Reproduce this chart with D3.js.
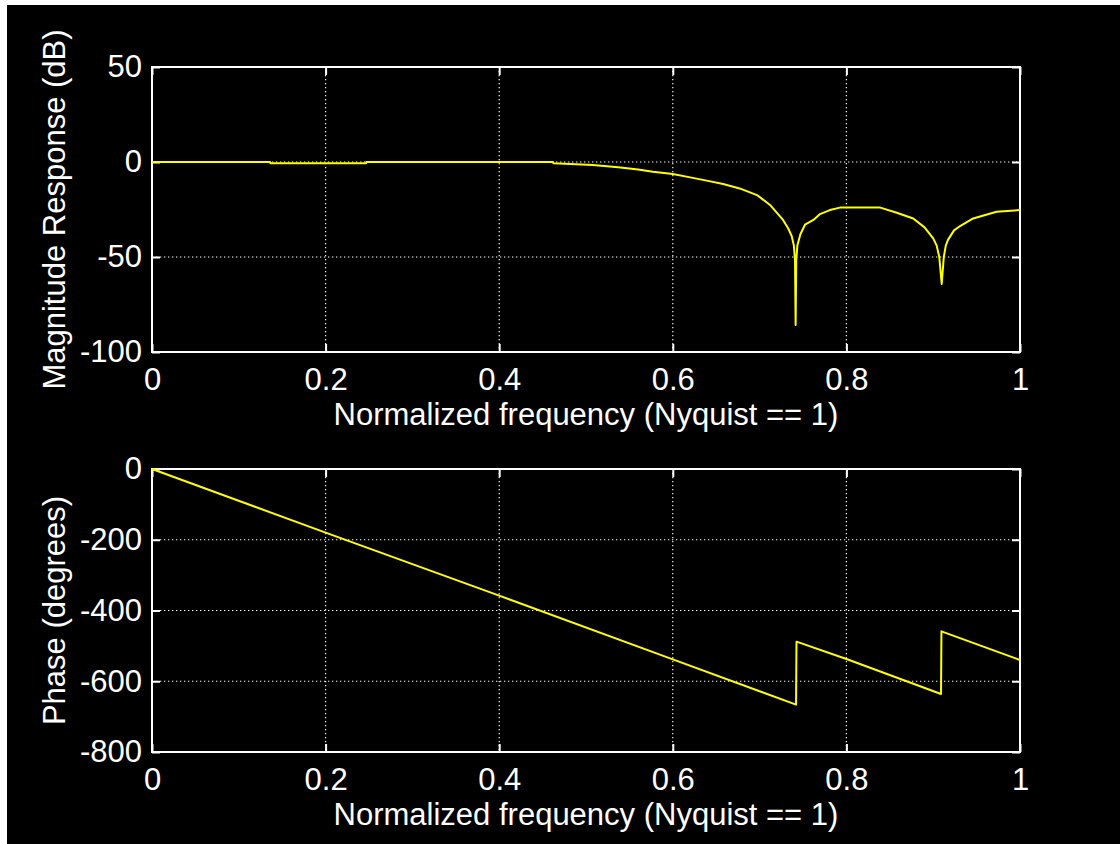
<!DOCTYPE html>
<html>
<head>
<meta charset="utf-8">
<script src="https://cdn.jsdelivr.net/npm/d3@7"></script>
<style>
  html, body { margin: 0; padding: 0; background: #000; }
  svg { display: block; }
  text { font-family: "Liberation Sans", Arial, Helvetica, sans-serif; fill: #fff; }
</style>
</head>
<body>
<svg id="chart" width="1120" height="844"></svg>
<script>
// ---------- data ----------
const xTicks = [0, 0.2, 0.4, 0.6, 0.8, 1];
const xTickLabels = ["0", "0.2", "0.4", "0.6", "0.8", "1"];
const magTicks = [50, 0, -50, -100];
const phaseTicks = [0, -200, -400, -600, -800];

const magFreq = [0, 0.136, 0.1365, 0.2465, 0.247, 0.462, 0.4625, 0.508, 0.537, 0.560, 0.577, 0.600,
  0.620, 0.639, 0.658, 0.677, 0.697, 0.712, 0.727, 0.733, 0.737, 0.7395, 0.7408, 0.7415, 0.7422, 0.7435,
  0.747, 0.7523, 0.762, 0.7696, 0.781, 0.7926, 0.839, 0.858, 0.877, 0.890, 0.900, 0.904, 0.907,
  0.9098, 0.9122, 0.9145, 0.917, 0.924, 0.931, 0.946, 0.973, 1.0];
const magDb = [0, 0, -0.7, -0.7, 0, 0, -0.7, -1.6, -2.8, -3.9, -5.1, -6.3,
  -8.1, -9.8, -11.6, -13.9, -17.4, -22.6, -30.5, -35, -39, -44, -52, -85.8, -52, -44,
  -38, -33, -30.5, -27.4, -25.3, -24, -24, -26.7, -29.7, -34.4, -40.2, -44, -50,
  -64.2, -50, -44, -41, -36, -33.7, -29.7, -26.2, -25.3];

const phaseFreq = [0, 0.2, 0.4, 0.6, 0.742, 0.7425, 0.8, 0.909, 0.9095, 1.0];
const phaseDeg = [0, -180, -358, -538, -666, -488, -537, -636, -459, -540];

const xLabel = "Normalized frequency (Nyquist == 1)";

// ---------- drawing ----------
const svg = d3.select("#chart");
svg.append("rect").attr("x", 0).attr("y", 0).attr("width", 1120).attr("height", 844).attr("fill", "#000");
svg.append("rect").attr("x", 0).attr("y", 0).attr("width", 1120).attr("height", 5).attr("fill", "#fff");
svg.append("rect").attr("x", 0).attr("y", 0).attr("width", 7).attr("height", 844).attr("fill", "#fff");

const L = 152, R = 1020;
const FS = 31;
const FONT = "\"Liberation Sans\", Arial, Helvetica, sans-serif";

function panel(top, bottom, yDomain, yTicks, fx, fy, yLabel) {
  const x = d3.scaleLinear().domain([0, 1]).range([L, R]);
  const y = d3.scaleLinear().domain(yDomain).range([top, bottom]);
  const g = svg.append("g");

  // dotted grid
  const gx = xTicks.filter(v => v > 0 && v < 1);
  const gy = yTicks.filter(v => v !== yDomain[0] && v !== yDomain[1]);
  g.selectAll(".gx").data(gx).join("line")
    .attr("x1", d => x(d)).attr("x2", d => x(d))
    .attr("y1", top).attr("y2", bottom)
    .attr("stroke", "#fff").attr("stroke-width", 1.2).attr("stroke-dasharray", "1.3,2.7");
  g.selectAll(".gy").data(gy).join("line")
    .attr("x1", L).attr("x2", R)
    .attr("y1", d => y(d)).attr("y2", d => y(d))
    .attr("stroke", "#fff").attr("stroke-width", 1.2).attr("stroke-dasharray", "1.3,2.7");

  // axes (inside ticks) with labels
  const ax = g.append("g").attr("transform", `translate(0,${bottom})`)
    .call(d3.axisBottom(x).tickValues(xTicks).tickFormat((d, i) => xTickLabels[i])
      .tickSize(-8).tickSizeOuter(0).tickPadding(16));
  const axTop = g.append("g").attr("transform", `translate(0,${top})`)
    .call(d3.axisTop(x).tickValues(xTicks).tickFormat("").tickSize(-8).tickSizeOuter(0));
  const ay = g.append("g").attr("transform", `translate(${L},0)`)
    .call(d3.axisLeft(y).tickValues(yTicks).tickFormat(d => String(d))
      .tickSize(-8).tickSizeOuter(0).tickPadding(10));
  const ayR = g.append("g").attr("transform", `translate(${R},0)`)
    .call(d3.axisRight(y).tickValues(yTicks).tickFormat("").tickSize(-8).tickSizeOuter(0));
  [ax, axTop, ay, ayR].forEach(a => {
    a.select(".domain").remove();
    a.selectAll(".tick line").attr("stroke", "#fff").attr("stroke-width", 2);
    a.selectAll(".tick text").attr("fill", "#fff").attr("font-size", FS).attr("font-family", FONT);
  });

  // box
  g.append("rect").attr("x", L).attr("y", top).attr("width", R - L).attr("height", bottom - top)
    .attr("fill", "none").attr("stroke", "#fff").attr("stroke-width", 2);

  // data line
  const pts = fx.map((v, i) => [v, fy[i]]);
  g.append("path").datum(pts)
    .attr("fill", "none").attr("stroke", "#ffff00").attr("stroke-width", 2)
    .attr("stroke-linejoin", "round")
    .attr("d", d3.line().x(d => x(d[0])).y(d => y(d[1])));

  // axis labels
  g.append("text").attr("x", (L + R) / 2).attr("y", bottom + 73)
    .attr("text-anchor", "middle").attr("font-size", FS).text(xLabel);
  g.append("text")
    .attr("transform", `translate(65,${(top + bottom) / 2}) rotate(-90)`)
    .attr("text-anchor", "middle").attr("font-size", FS).text(yLabel);
}

panel(67, 352, [50, -100], magTicks, magFreq, magDb, "Magnitude Response (dB)");
panel(469, 752, [0, -800], phaseTicks, phaseFreq, phaseDeg, "Phase (degrees)");
</script>
</body>
</html>
